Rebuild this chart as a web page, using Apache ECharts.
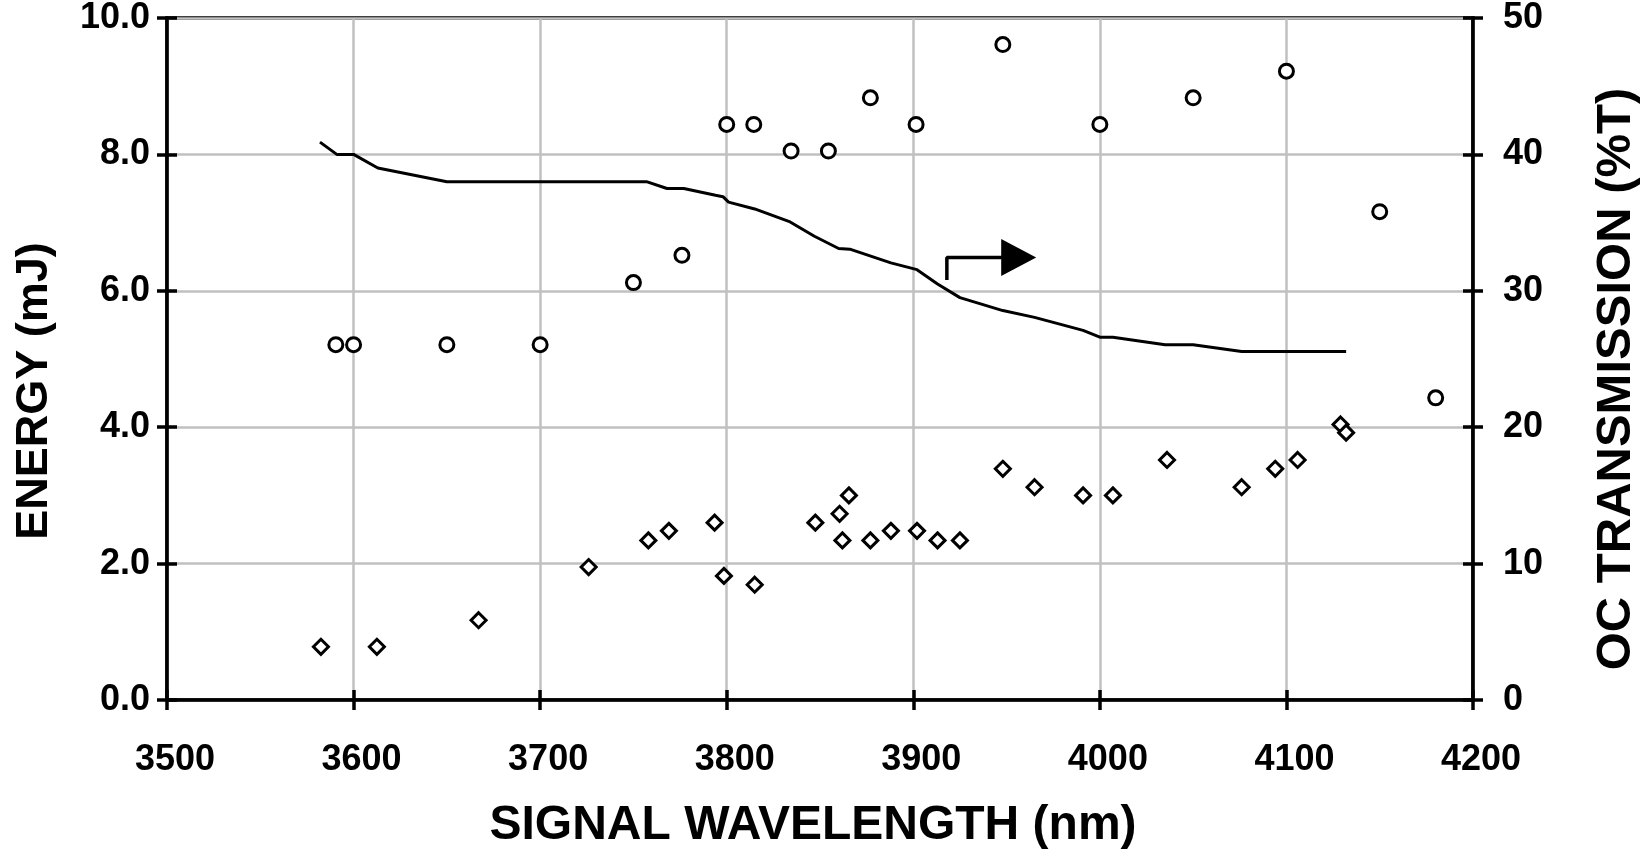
<!DOCTYPE html>
<html>
<head>
<meta charset="utf-8">
<title>Energy vs signal wavelength</title>
<script src="https://cdn.jsdelivr.net/npm/echarts@6/dist/echarts.min.js"></script>
<style>
  html, body { margin: 0; padding: 0; background: #fff; }
  #chart { width: 1649px; height: 855px; }
</style>
</head>
<body>
<div id="chart"></div>
<script>
// circles: energy (mJ) vs signal wavelength (nm)
const energyCircles = [
  [3590.5, 5.21], [3600, 5.21], [3650, 5.21], [3700, 5.21], [3750, 6.12], [3776, 6.52],
  [3800, 8.44], [3814.5, 8.44], [3834.5, 8.05], [3854.5, 8.05], [3877, 8.83], [3901.5, 8.44],
  [3948, 9.61], [4000, 8.44], [4050, 8.83], [4100, 9.22], [4150, 7.16], [4180, 4.43]
]

// diamonds: energy (mJ)
const energyDiamonds = [
  [3582.5, 0.78], [3612.5, 0.78], [3667, 1.17], [3726, 1.95], [3758, 2.34], [3769, 2.48],
  [3793.5, 2.6], [3798.5, 1.82], [3815, 1.69], [3847.5, 2.6], [3860.5, 2.73], [3865.5, 3.0],
  [3862, 2.34], [3877, 2.34], [3888, 2.48], [3902, 2.48], [3913, 2.34], [3925, 2.34],
  [3948, 3.39], [3965, 3.12], [3991, 3.0], [4007, 3.0], [4036, 3.52], [4076, 3.12],
  [4094, 3.39], [4106, 3.52], [4129, 4.04], [4132, 3.92]
]

// line: OC transmission (%T), right axis
const transmission = [
  [3582, 40.9], [3591, 40], [3600, 40], [3613, 39], [3650, 38], [3757, 38], [3768, 37.5],
  [3777, 37.5], [3794, 37.0], [3798, 36.9], [3801, 36.5], [3815, 36.0], [3834, 35.05],
  [3847, 34.0], [3860, 33.1], [3866, 33.05], [3888, 32.05], [3902, 31.55], [3913, 30.5],
  [3925, 29.5], [3948, 28.55], [3965, 28.05], [3991, 27.1], [4000, 26.6], [4007, 26.6],
  [4035, 26.05], [4050, 26.05], [4076, 25.55], [4132, 25.55]
]

// arrow showing the line belongs to the right axis
const arrowPath = [[3918, 30.8], [3918, 32.45], [3948, 32.45]]
const arrowHead = [[3956.5, 32.45]]

const FONT = '"Liberation Sans", Arial, Helvetica, sans-serif'
const tickFont = { fontFamily: FONT, fontWeight: 'bold', fontSize: 36, color: '#000' }
const nameFont = { fontFamily: FONT, fontWeight: 'bold', color: '#000' }
const black = { color: '#000', width: 3.5 }
const gridLine = { color: '#c0c0c0', width: 2.5 }

const chart = echarts.init(document.getElementById('chart'))

const option = {
  animation: false,
  backgroundColor: '#fff',
  grid: {
    left: 167, right: 173, top: 18, bottom: 149,
    show: true, borderColor: '#000', borderWidth: 3.5
  },
  xAxis: [
    {
      type: 'value', position: 'bottom',
      min: 3500, max: 4200, interval: 100,
      name: 'SIGNAL WAVELENGTH (nm)', nameLocation: 'middle', nameGap: 102,
      nameTextStyle: Object.assign({ fontSize: 48, padding: [0, 14, 0, 0] }, nameFont),
      axisLine: { show: true, lineStyle: black },
      axisTick: { show: true, inside: false, length: 10, lineStyle: black },
      axisLabel: Object.assign({ margin: 42, padding: [0, 0, 0, 16], formatter: v => String(v) }, tickFont),
      splitLine: { show: true, lineStyle: gridLine }
    },
    {
      type: 'value', position: 'bottom',
      min: 3500, max: 4200, interval: 100,
      axisLine: { show: false },
      axisTick: { show: true, inside: true, length: 10, lineStyle: black },
      axisLabel: { show: false },
      splitLine: { show: false }
    }
  ],
  yAxis: [
    {
      type: 'value', position: 'left',
      min: 0, max: 10, interval: 2,
      name: 'ENERGY (mJ)', nameLocation: 'middle', nameGap: 110, nameRotate: 90,
      nameTextStyle: Object.assign({ fontSize: 45, padding: [0, 64, 0, 0] }, nameFont),
      axisLine: { show: true, lineStyle: black },
      axisTick: { show: true, inside: false, length: 10, lineStyle: black },
      axisLabel: Object.assign({ margin: 17, padding: [20, 0, 0, 0], formatter: v => v.toFixed(1) }, tickFont),
      splitLine: { show: true, lineStyle: gridLine }
    },
    {
      type: 'value', position: 'right',
      min: 0, max: 50, interval: 10,
      name: 'OC TRANSMISSION (%T)', nameLocation: 'middle', nameGap: 119, nameRotate: 90,
      nameTextStyle: Object.assign({ fontSize: 49, padding: [0, 40, 0, 0] }, nameFont),
      axisLine: { show: true, lineStyle: black },
      axisTick: { show: true, inside: false, length: 10, lineStyle: black },
      axisLabel: Object.assign({ margin: 30, padding: [20, 0, 0, 0] }, tickFont),
      splitLine: { show: false }
    },
    {
      type: 'value', position: 'left',
      min: 0, max: 10, interval: 2,
      axisLine: { show: false },
      axisTick: { show: true, inside: true, length: 10, lineStyle: black },
      axisLabel: { show: false },
      splitLine: { show: false }
    },
    {
      type: 'value', position: 'right',
      min: 0, max: 50, interval: 10,
      axisLine: { show: false },
      axisTick: { show: true, inside: true, length: 10, lineStyle: black },
      axisLabel: { show: false },
      splitLine: { show: false }
    }
  ],
  series: [
    {
      name: 'OC transmission',
      type: 'line',
      xAxisIndex: 0, yAxisIndex: 1,
      data: transmission,
      showSymbol: false,
      lineStyle: { color: '#000', width: 3 },
      z: 3
    },
    {
      name: 'arrow',
      type: 'line',
      xAxisIndex: 0, yAxisIndex: 1,
      data: arrowPath,
      showSymbol: false,
      lineStyle: { color: '#000', width: 3.5 },
      z: 3
    },
    {
      name: 'arrow head',
      type: 'scatter',
      xAxisIndex: 0, yAxisIndex: 1,
      data: arrowHead,
      symbol: 'triangle',
      symbolRotate: -90,
      symbolSize: [37, 35],
      itemStyle: { color: '#000', opacity: 1 },
      z: 3
    },
    {
      name: 'energy (circles)',
      type: 'scatter',
      xAxisIndex: 0, yAxisIndex: 0,
      data: energyCircles,
      symbol: 'circle',
      symbolSize: 14,
      itemStyle: { color: '#fff', borderColor: '#000', borderWidth: 3, opacity: 1 },
      z: 4
    },
    {
      name: 'energy (diamonds)',
      type: 'scatter',
      xAxisIndex: 0, yAxisIndex: 0,
      data: energyDiamonds,
      symbol: 'diamond',
      symbolSize: 15,
      itemStyle: { color: '#fff', borderColor: '#000', borderWidth: 3, opacity: 1 },
      z: 4
    }
  ]
}

chart.setOption(option)
</script>
</body>
</html>
